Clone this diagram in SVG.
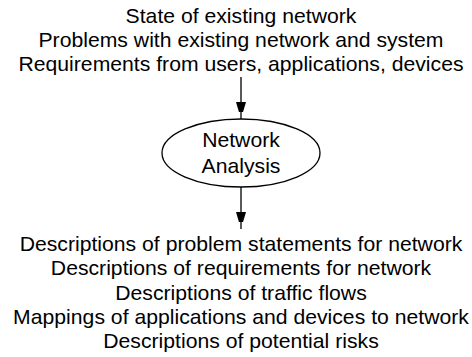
<svg xmlns="http://www.w3.org/2000/svg" width="472" height="357" viewBox="0 0 472 357">
<style>
text{font-family:"Liberation Sans",Arial,sans-serif;font-size:20px;fill:#000;text-anchor:middle}
.c{stroke:#000;stroke-width:1.3;fill:none}
.w{transform:translate(241px,0) scale(1.06,1) translate(-241px,0)}
</style>
<defs>
<marker id="ah" markerWidth="10" markerHeight="17" refX="17" refY="5" orient="auto" markerUnits="userSpaceOnUse">
<path d="M0,0 L17,5 L0,10 Z" fill="#000"/>
</marker>
</defs>
<rect width="472" height="357" fill="#fff"/>
<g id="inputs" class="w">
<text x="241" y="23">State of existing network</text>
<text x="241" y="47">Problems with existing network and system</text>
<text x="241" y="71">Requirements from users, applications, devices</text>
</g>
<g id="analysis">
<ellipse cx="241" cy="153" rx="79" ry="34" fill="#fff" stroke="#000" stroke-width="1.3"/>
<g class="w">
<text x="241" y="147">Network</text>
<text x="241" y="173">Analysis</text>
</g>
</g>
<g id="outputs" class="w">
<text x="241" y="251">Descriptions of problem statements for network</text>
<text x="241" y="275">Descriptions of requirements for network</text>
<text x="241" y="300">Descriptions of traffic flows</text>
<text x="241" y="324">Mappings of applications and devices to network</text>
<text x="241" y="348">Descriptions of potential risks</text>
</g>
<g id="connectors">
<line class="c" x1="241" y1="77" x2="241" y2="119" marker-end="url(#ah)"/>
<line class="c" x1="241" y1="187" x2="241" y2="229" marker-end="url(#ah)"/>
</g>
</svg>
